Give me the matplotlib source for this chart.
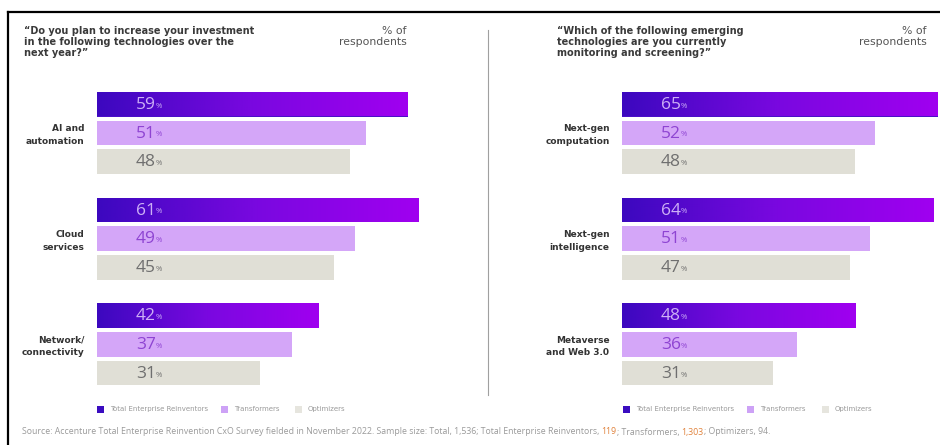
import matplotlib
matplotlib.use("Agg")
import matplotlib.pyplot as plt
import numpy as np
from matplotlib.patches import Rectangle
from matplotlib.lines import Line2D
from matplotlib.colors import LinearSegmentedColormap

plt.rcParams['font.family'] = ['Open Sans', 'DejaVu Sans']

W, H = 940, 445
# ---- data ----
left_title = "\u201cDo you plan to increase your investment\nin the following technologies over the\nnext year?\u201d"
right_title = "\u201cWhich of the following emerging\ntechnologies are you currently\nmonitoring and screening?\u201d"
unit_label = "% of\nrespondents"
left_categories = ["AI and\nautomation", "Cloud\nservices", "Network/\nconnectivity"]
right_categories = ["Next-gen\ncomputation", "Next-gen\nintelligence", "Metaverse\nand Web 3.0"]
series = ["Total Enterprise Reinventors", "Transformers", "Optimizers"]
left_reinventors = [59, 61, 42]
left_transformers = [51, 49, 37]
left_optimizers = [48, 45, 31]
right_reinventors = [65, 64, 48]
right_transformers = [52, 51, 36]
right_optimizers = [48, 47, 31]
source_parts = [
    ("Source: Accenture Total Enterprise Reinvention CxO Survey fielded in November 2022. Sample size: Total, 1,536; Total Enterprise Reinventors, ", "#9a9a9a"),
    ("119", "#e0823c"),
    ("; Transformers, ", "#9a9a9a"),
    ("1,303", "#e0823c"),
    ("; Optimizers, 94.", "#9a9a9a"),
]

bar_colors = ["#4a10c8", "#d4a6f8", "#e0dfd6"]
text_colors = ["#cdb0f6", "#8e44d2", "#6f6f6f"]
grad = LinearSegmentedColormap.from_list("g", ["#3c08bf", "#7a08e0", "#a000f0"])

WIDE = ['DejaVu Sans']

fig = plt.figure(figsize=(W / 100, H / 100), dpi=100)
fig.patch.set_facecolor("white")

def fx(x):
    return x / W

def fy(y):
    return 1 - y / H

# frame lines
fig.add_artist(Line2D([fx(8), fx(940)], [fy(12), fy(12)], color="black", lw=1.6))
fig.add_artist(Line2D([fx(8), fx(8)], [fy(12), fy(445)], color="black", lw=1.6))
# divider
fig.add_artist(Line2D([fx(488), fx(488)], [fy(30), fy(395)], color="#a0a0a0", lw=0.8))

pitch_px = 28.7
group_gap = 105.7 / pitch_px
bar_h = 24.5 / pitch_px
ax_top_px, ax_bot_px = 85, 390
first_center_px = 92 + 24.5 / 2
y_top = -(first_center_px - ax_top_px) / pitch_px
y_bot = y_top + (ax_bot_px - ax_top_px) / pitch_px


def panel(x0_px, px_per_pct, xmax, cats, vals_list):
    width_px = xmax * px_per_pct
    ax = fig.add_axes([fx(x0_px), fy(ax_bot_px), width_px / W, (ax_bot_px - ax_top_px) / H])
    ax.set_xlim(0, xmax)
    ax.set_ylim(y_bot, y_top)
    ax.axis("off")
    for s, vals in enumerate(vals_list):
        for g, v in enumerate(vals):
            pos = g * group_gap + s
            rect = Rectangle((0, pos - bar_h / 2), v, bar_h, facecolor=bar_colors[s],
                             edgecolor="none", zorder=2)
            ax.add_patch(rect)
            if s == 0:
                im = ax.imshow(np.linspace(0, 1, 256).reshape(1, -1), cmap=grad, aspect="auto",
                               extent=[0, v, pos + bar_h / 2, pos - bar_h / 2], zorder=3,
                               interpolation="bilinear")
                im.set_clip_path(rect)
            t = ax.annotate(f"{v}", xy=(0, pos), xytext=(28, -0.5), textcoords="offset points",
                            va="center", ha="left", fontsize=12.5, color=text_colors[s], zorder=5)
            ax.annotate("%", xy=(1.0, 0.2), xycoords=t, va="bottom", ha="left",
                        fontsize=5.5, color=text_colors[s], zorder=5)
    for g, c in enumerate(cats):
        ax.annotate(c, xy=(0, g * group_gap + 1.08), xytext=(-9, 0), textcoords="offset points",
                    ha="right", va="center", ma="right", fontsize=6.5, fontweight="bold",
                    color="#333333", linespacing=1.5, family=WIDE)
    ax.set_xlim(0, xmax)
    ax.set_ylim(y_bot, y_top)
    return ax

ax_left = panel(97, 5.27, 70, left_categories, [left_reinventors, left_transformers, left_optimizers])
panel(622, 4.86, 65, right_categories, [right_reinventors, right_transformers, right_optimizers])

# titles
for x, title in [(24, left_title), (557, right_title)]:
    fig.text(fx(x), fy(26), title, ha="left", va="top", fontsize=7.0, fontweight="bold",
             color="#3a3a3a", linespacing=1.1, family=WIDE)
for x in [407, 927]:
    fig.text(fx(x), fy(26), unit_label, ha="right", va="top", ma="right", fontsize=7.8,
             color="#555555", linespacing=1.1, family=WIDE)

# legends
legend_sq = ["#3a0cc0", "#cda2f6", "#e6e5de"]
def legend(xs_sq):
    for x, lab, col in zip(xs_sq, series, legend_sq):
        fig.add_artist(Rectangle((fx(x), fy(412.5)), 7 / W, 7 / H, facecolor=col,
                                 edgecolor="none", transform=fig.transFigure))
        fig.text(fx(x + 13), fy(409), lab, ha="left", va="center", fontsize=5.0,
                 color="#9a9a9a", family=WIDE)

legend([97, 221, 295])
legend([623, 747, 822])

# source
prev = fig.text(fx(22), fy(432), source_parts[0][0], ha="left", va="center",
                fontsize=6.3, color=source_parts[0][1])
for txt, col in source_parts[1:]:
    prev = ax_left.annotate(txt, xy=(1, 0), xycoords=prev, va="bottom", ha="left",
                            fontsize=6.3, color=col, annotation_clip=False)

fig.savefig("out.png", dpi=100, facecolor="white")
